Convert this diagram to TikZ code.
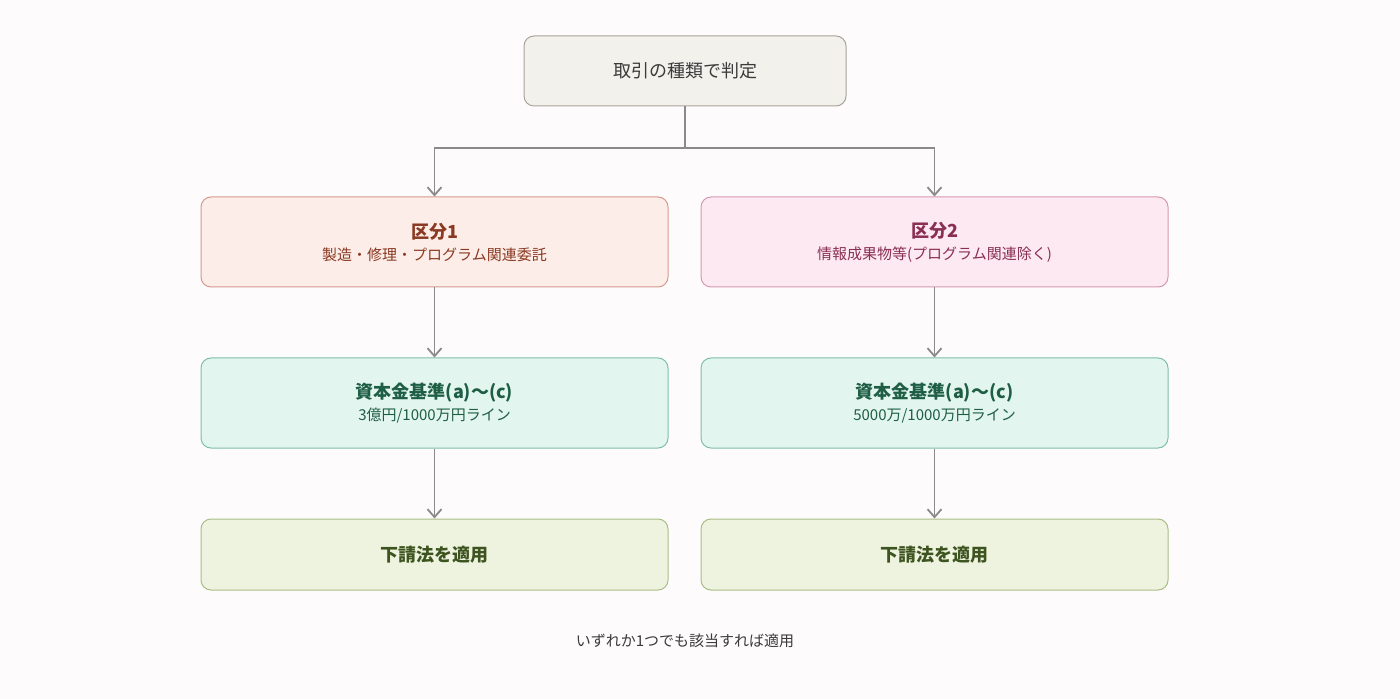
\documentclass[tikz,border=0pt]{standalone}
\usepackage{fontspec}
\setmainfont{Noto Sans CJK JP}
\usetikzlibrary{arrows.meta}
\definecolor{bg}{HTML}{FDFBFC}
\definecolor{tf}{HTML}{F3F1EC}\definecolor{tb}{HTML}{A8A49C}\definecolor{tt}{HTML}{3A3A3A}
\definecolor{rf}{HTML}{FDEDE8}\definecolor{rb}{HTML}{D59A8E}\definecolor{rt}{HTML}{8A3A22}
\definecolor{pf}{HTML}{FDE9F1}\definecolor{pb}{HTML}{D49AB0}\definecolor{pt}{HTML}{8A2F52}
\definecolor{gf}{HTML}{E3F5EF}\definecolor{gb}{HTML}{7FBFA8}\definecolor{gt}{HTML}{1E5E45}
\definecolor{of}{HTML}{EEF3DF}\definecolor{ob}{HTML}{A9BE84}\definecolor{ot}{HTML}{3E5420}
\definecolor{ar}{HTML}{8A8A8A}
\begin{document}
\begin{tikzpicture}[x=0.5pt,y=-0.5pt,
 box/.style={draw,rounded corners=5pt,line width=0.5pt,align=center,inner sep=0pt,font=\fontsize{9}{12}\selectfont},
 arr/.style={draw=ar,line width=0.9pt,-{Straight Barb[length=4pt,width=7pt]}}]
\fill[bg] (0,0) rectangle (1400,699);
\path[use as bounding box] (0,0) rectangle (1400,699);
\node[box,fill=tf,draw=tb,text=tt,minimum width=161pt,minimum height=35pt] (top) at (685,71) {取引の種類で判定};
\node[box,fill=rf,draw=rb,text=rt,minimum width=233.5pt,minimum height=45pt] (k1) at (434.5,242) {\textbf{区分1}\\[-1pt]{\fontsize{7.5}{10}\selectfont 製造・修理・プログラム関連委託}};
\node[box,fill=pf,draw=pb,text=pt,minimum width=233.5pt,minimum height=45pt] (k2) at (934.5,242) {\textbf{区分2}\\[-1pt]{\fontsize{7.5}{10}\selectfont 情報成果物等(プログラム関連除く)}};
\node[box,fill=gf,draw=gb,text=gt,minimum width=233.5pt,minimum height=45pt] (s1) at (434.5,403) {\textbf{資本金基準(a)〜(c)}\\[-1pt]{\fontsize{7.5}{10}\selectfont 3億円/1000万円ライン}};
\node[box,fill=gf,draw=gb,text=gt,minimum width=233.5pt,minimum height=45pt] (s2) at (934.5,403) {\textbf{資本金基準(a)〜(c)}\\[-1pt]{\fontsize{7.5}{10}\selectfont 5000万/1000万円ライン}};
\node[box,fill=of,draw=ob,text=ot,minimum width=233.5pt,minimum height=35.5pt] (a1) at (434.5,554.5) {\textbf{下請法を適用}};
\node[box,fill=of,draw=ob,text=ot,minimum width=233.5pt,minimum height=35.5pt] (a2) at (934.5,554.5) {\textbf{下請法を適用}};
\node[text=tt,font=\fontsize{7.5}{10}\selectfont] (foot) at (685,641) {いずれか1つでも該当すれば適用};
\coordinate (m) at (685,148);
\draw[arr] (top.south) -- (m) -| (k1.north);
\draw[arr] (m) -| (k2.north);
\draw[arr] (k1) -- (s1);
\draw[arr] (k2) -- (s2);
\draw[arr] (s1) -- (a1);
\draw[arr] (s2) -- (a2);
\end{tikzpicture}
\end{document}
